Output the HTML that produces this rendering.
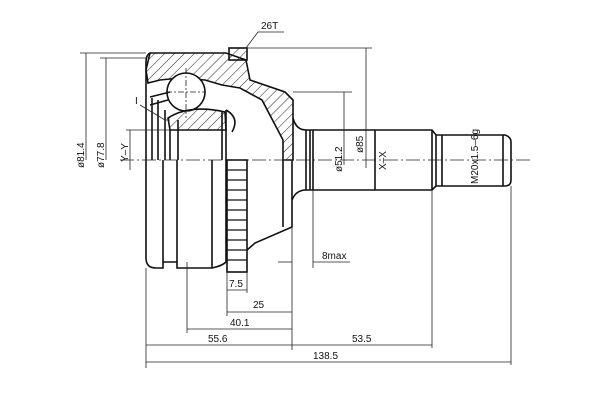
<!DOCTYPE html>
<html><head><meta charset="utf-8"><style>
html,body{margin:0;padding:0;background:#fff}
svg{display:block}
text{font-family:"Liberation Sans",sans-serif;font-size:10px;fill:#111}
</style></head><body>
<svg width="600" height="400" viewBox="0 0 600 400" xmlns="http://www.w3.org/2000/svg">
<defs>
<pattern id="h" width="7" height="7" patternUnits="userSpaceOnUse" patternTransform="rotate(45)">
<line x1="0" y1="0" x2="0" y2="7" stroke="#222" stroke-width="1"/>
</pattern>
</defs>
<g stroke="#111" fill="none" stroke-width="1.6">
<path d="M150 53 L226 53 L246 60 L250 80 L285 92 L293 100 L293 160 L283 160 L283 140 L262 100 L240 88 L222 85 L205 80 L180 78 L160 80 L148 83 L146 70 Z" fill="url(#h)"/>
<path d="M150 53 Q146 55 146 62 L146 160" />
<circle cx="186" cy="92" r="19" fill="#fff"/>
<path d="M168 118 Q190 104 225 112 L226 130 L170 130 Z" fill="url(#h)"/>
<path d="M150 97 L170 92 M150 105 L168 100" />
<path d="M152 98 L152 160 M158 100 L158 160 M165 110 L165 160 M170 130 L170 160 M178 120 L178 160 M222 112 L222 160 M226 110 L226 160"/>
<path d="M226 110 Q240 118 232 132" />
<path d="M146 160 L146 258 Q146 268 156 268 L163 268 L163 262 L177 262 L177 268 L212 268 Q222 266 226 262 L226 160"/>
<path d="M163 160 L163 262 M177 160 L177 262 M212 160 L212 268"/>
<rect x="227" y="160" width="20" height="112" fill="#fff"/>
<g stroke-width="1.2">
<line x1="227" y1="170" x2="247" y2="170"/><line x1="227" y1="180" x2="247" y2="180"/><line x1="227" y1="190" x2="247" y2="190"/><line x1="227" y1="200" x2="247" y2="200"/><line x1="227" y1="210" x2="247" y2="210"/><line x1="227" y1="220" x2="247" y2="220"/><line x1="227" y1="230" x2="247" y2="230"/><line x1="227" y1="240" x2="247" y2="240"/><line x1="227" y1="250" x2="247" y2="250"/><line x1="227" y1="260" x2="247" y2="260"/>
</g>
<path d="M247 250 L255 243 L292 227 L292 160 M283 160 L283 227"/>
<path d="M293 118 Q296 130 306 130 M292 200 Q296 190 306 190"/>
<path d="M306 130 L432 130 L436 135 L436 186 L432 190 L306 190 Z"/>
<path d="M310 130 L310 190 M313 130 L313 190 M432 130 L432 190 M375 130 L375 190"/>
<path d="M436 135 L505 135 Q511 137 511 142 L511 180 Q511 186 505 186 L436 186"/>
<path d="M442 135 L442 186 M503 135 L503 186"/>
<rect x="229" y="48" width="18" height="12" fill="url(#h)"/>
</g>
<g stroke="#222" stroke-width="0.8" fill="none">
<line x1="120" y1="160" x2="530" y2="160" stroke-dasharray="14 3 2 3"/>
<line x1="186" y1="68" x2="186" y2="118" stroke-dasharray="6 2 2 2"/>
<line x1="166" y1="92" x2="206" y2="92" stroke-dasharray="6 2 2 2"/>
<line x1="80" y1="53" x2="146" y2="53"/>
<line x1="100" y1="58" x2="146" y2="58"/>
<line x1="126" y1="130" x2="170" y2="130"/>
<line x1="247" y1="48" x2="372" y2="48"/>
<line x1="293" y1="92" x2="352" y2="92"/>
<line x1="86" y1="53" x2="86" y2="160"/>
<line x1="106" y1="58" x2="106" y2="160"/>
<line x1="130" y1="130" x2="130" y2="170"/>
<line x1="344" y1="92" x2="344" y2="165"/>
<line x1="366" y1="48" x2="366" y2="168"/>
<line x1="146" y1="268" x2="146" y2="368"/>
<line x1="187" y1="262" x2="187" y2="333"/>
<line x1="227" y1="272" x2="227" y2="316"/>
<line x1="247" y1="272" x2="247" y2="293"/>
<line x1="292" y1="227" x2="292" y2="350"/>
<line x1="313" y1="190" x2="313" y2="268"/>
<line x1="432" y1="190" x2="432" y2="348"/>
<line x1="511" y1="186" x2="511" y2="365"/>
<line x1="227" y1="290" x2="247" y2="290"/>
<line x1="227" y1="312" x2="292" y2="312"/>
<line x1="187" y1="329" x2="292" y2="329"/>
<line x1="146" y1="345" x2="432" y2="345"/>
<line x1="146" y1="362" x2="511" y2="362"/>
<line x1="278" y1="262" x2="292" y2="262"/>
<line x1="313" y1="262" x2="350" y2="262"/>
<polyline points="246,48 258,32 284,32"/>
<polyline points="140,105 165,120 170,120"/>
</g>
<text x="261" y="29">26T</text>
<text x="135" y="104">I</text>
<text x="322" y="259">8max</text>
<text x="229" y="287">7.5</text>
<text x="253" y="308">25</text>
<text x="230" y="326">40.1</text>
<text x="208" y="342">55.6</text>
<text x="352" y="342">53.5</text>
<text x="313" y="359">138.5</text>
<text transform="translate(84,168) rotate(-90)">ø81.4</text>
<text transform="translate(104,168) rotate(-90)">ø77.8</text>
<text transform="translate(128,162) rotate(-90)">Y–Y</text>
<text transform="translate(342,172) rotate(-90)">ø51.2</text>
<text transform="translate(363,153) rotate(-90)">ø85</text>
<text transform="translate(386,170) rotate(-90)">X–X</text>
<text transform="translate(478,184) rotate(-90)">M20x1.5–6g</text>
</svg>
</body></html>
